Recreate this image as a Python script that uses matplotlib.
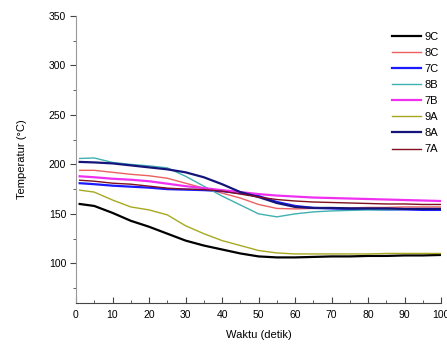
import numpy as np
import matplotlib
matplotlib.use("Agg")
import matplotlib.pyplot as plt
from matplotlib.ticker import MultipleLocator

plt.rcParams['font.family'] = ['Liberation Sans', 'DejaVu Sans']

# waktu (detik)
waktu = [1, 5, 10, 15, 20, 25, 30, 35, 40, 45, 50, 55, 60, 65, 70, 75, 80, 85, 90, 95, 100]

# temperatur tiap sampel
t_9C = [160, 158, 151, 143, 137, 130, 123, 118, 114, 110, 107, 106, 106, 106.5, 107, 107, 107.5, 107.5, 108, 108, 108.5]
t_8C = [194, 194, 192, 190, 188.5, 186, 181, 176, 171, 166, 159.5, 155.5, 155, 155.5, 156, 156, 156.5, 156.5, 157, 157, 157]
t_7C = [181, 180, 178.5, 177.5, 176.5, 175, 174.5, 174, 173, 171, 168, 162, 158, 156, 155.5, 155, 155, 154.5, 154.5, 154, 154]
t_8B = [206, 206.5, 202, 200, 198.5, 196.5, 188, 178, 168, 159, 150, 147, 150, 152, 153, 153.5, 154, 154, 154.5, 155, 155]
t_7B = [188, 187, 185.5, 184.5, 183, 180.5, 178, 176, 174, 172, 170, 168.5, 167.5, 166.5, 166, 165.5, 165, 164.5, 164, 163.5, 163]
t_9A = [174, 172, 164, 157, 154, 149, 138, 130, 123, 118, 113, 110.5, 109.5, 109.5, 109.5, 109.5, 109.5, 110, 110, 110, 110]
t_8A = [202.5, 202, 201, 199, 197, 195, 192, 187, 180, 172, 167, 161, 157, 156, 156, 155.5, 155.5, 155.5, 155, 155, 155]
t_7A = [184, 183, 181, 180, 178, 176, 175, 174.5, 173, 170, 167, 164.5, 163, 162, 161.5, 161, 160.5, 160, 160, 159.5, 159.5]

labels = ['9C', '8C', '7C', '8B', '7B', '9A', '8A', '7A']
series = [t_9C, t_8C, t_7C, t_8B, t_7B, t_9A, t_8A, t_7A]
colors = ['black', '#ec6060', '#1a1aff', '#40b0b0', '#f030f0', '#a8a820', '#14147a', '#801020']
widths = [1.6, 1.0, 1.6, 1.0, 1.6, 1.0, 1.6, 1.0]

fig = plt.figure(figsize=(4.47, 3.47), dpi=100)
ax = fig.add_axes([0.170, 0.127, 0.817, 0.827])

for lab, y, c, w in zip(labels, series, colors, widths):
    ax.plot(waktu, y, color=c, lw=w, label=lab)

ax.set_xlim(0, 100)
ax.set_ylim(60, 350)
ax.xaxis.set_major_locator(MultipleLocator(10))
ax.xaxis.set_minor_locator(MultipleLocator(5))
ax.set_yticks([100, 150, 200, 250, 300, 350])
ax.yaxis.set_minor_locator(MultipleLocator(25))
ax.tick_params(which='both', labelsize=7.5, color='#444444')
ax.tick_params(axis='x', which='both', direction='in', pad=5)
ax.tick_params(axis='y', which='both', direction='out', pad=3)
ax.tick_params(which='major', length=4)
ax.tick_params(which='minor', length=2.5)
ax.spines['top'].set_visible(False)
ax.spines['right'].set_visible(False)
ax.spines['left'].set_color('#999999')
ax.spines['bottom'].set_color('#444444')

ax.set_xlabel('Waktu (detik)', fontsize=8, labelpad=7)
ax.set_ylabel('Temperatur (°C)', fontsize=8, labelpad=16)

ax.legend(loc='upper right', bbox_to_anchor=(1.02, 0.98), frameon=False, fontsize=8,
          handlelength=2.6, handletextpad=0.3, labelspacing=0.55)

plt.savefig('out.png', dpi=100)
